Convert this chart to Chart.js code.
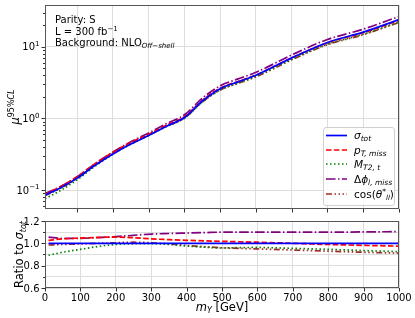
<!DOCTYPE html>
<html><head><meta charset="utf-8">
<script src="https://cdn.jsdelivr.net/npm/chart.js@4.4.0/dist/chart.umd.min.js"></script>
<style>
html,body{margin:0;padding:0;background:#fff;}
#wrap{position:relative;width:415px;height:318px;overflow:hidden;}
#c1{position:absolute;left:0;top:0;}
#c2{position:absolute;left:0;top:215px;}
</style></head><body>
<div id="wrap"><canvas id="c1" width="415" height="215"></canvas><canvas id="c2" width="415" height="103"></canvas></div>
<script>
// ---- data ----
const mass = [10,50,100,150,200,250,300,350,400,450,500,550,600,700,800,900,1000];
const muSigmaTot = [0.085,0.105,0.147,0.222,0.32,0.44,0.58,0.78,1.03,1.75,2.6,3.24,4.0,7.0,11.5,16.0,24.0];
const muPtMiss   = [0.0873,0.1092,0.1539,0.2338,0.3379,0.462,0.6032,0.8057,1.058,1.789,2.647,3.285,4.04,7.0,11.39,15.71,23.4];
const muMT2      = [0.0759,0.0966,0.1391,0.2158,0.3168,0.4382,0.5783,0.7722,1.005,1.691,2.491,3.117,3.852,6.685,10.88,14.96,22.2];
const muDphi     = [0.0897,0.1097,0.1536,0.2335,0.3392,0.4717,0.6281,0.8486,1.125,1.918,2.86,3.564,4.4,7.7,12.65,17.63,26.52];
const muCos      = [0.0837,0.104,0.1463,0.222,0.3216,0.4444,0.5829,0.7761,1.009,1.698,2.496,3.094,3.8,6.58,10.70,14.72,21.89];

const ratioSigmaTot = [1,1,1,1,1,1,1,1,1,1,1,1,1,1,1,1,1];
const ratioPtMiss = [1.027,1.04,1.047,1.053,1.056,1.05,1.04,1.033,1.027,1.022,1.018,1.014,1.01,1.0,0.99,0.982,0.975];
const ratioMT2    = [0.893,0.92,0.946,0.972,0.99,0.996,0.997,0.99,0.976,0.966,0.958,0.962,0.963,0.955,0.946,0.935,0.925];
const ratioDphi   = [1.055,1.045,1.045,1.052,1.06,1.072,1.083,1.088,1.092,1.096,1.1,1.1,1.1,1.1,1.1,1.102,1.105];
const ratioCos    = [0.985,0.99,0.995,1.0,1.005,1.01,1.005,0.995,0.98,0.97,0.96,0.955,0.95,0.94,0.93,0.92,0.912];

const xTicks = [0,100,200,300,400,500,600,700,800,900,1000];
const yTopExps = [-1,0,1];
const yRatioTicks = [0.6,0.8,1.0,1.2];

// ---- styles ----
const FONT = '"DejaVu Sans", "Liberation Sans", sans-serif';
const styles = [
  {color:'#0000ff', dash:[]},
  {color:'#ff0000', dash:[5.5,2.4]},
  {color:'#008000', dash:[1.5,2.5]},
  {color:'#800080', dash:[9.6,2.4,1.5,2.4]},
  {color:'#a52a2a', dash:[6,2.5,1.5,2.5,1.5,2.5,1.5,2.5]}
];
const LW = 1.7;

function mk(xs, ys, i){
  return {data: xs.map((x,k)=>({x:x,y:ys[k]})), borderColor:styles[i].color, borderDash:styles[i].dash,
    borderWidth:LW, pointRadius:0, fill:false, cubicInterpolationMode:'monotone', borderCapStyle:'butt'};
}

function drawRuns(ctx, x, y, list, align){
  let w = 0;
  for (const r of list){ ctx.font = (r[2]||'') + ' ' + r[1] + 'px ' + FONT; w += ctx.measureText(r[0]).width; }
  let cx = x;
  if (align==='center') cx = x - w/2; else if (align==='right') cx = x - w;
  ctx.textAlign='left'; ctx.textBaseline='alphabetic';
  for (const r of list){ ctx.font = (r[2]||'') + ' ' + r[1] + 'px ' + FONT; ctx.fillText(r[0], cx, y + (r[3]||0)); cx += ctx.measureText(r[0]).width; }
  return w;
}

const GRID = '#dddddd';
const FRAME = '#555555';

const topPlugin = {
  id:'topDeco',
  afterDraw(chart){
    const {ctx, chartArea:a, scales:{x,y}} = chart;
    ctx.save();
    ctx.strokeStyle = FRAME; ctx.lineWidth = 1; ctx.setLineDash([]);
    ctx.strokeRect(a.left+0.5, a.top+0.5, a.right-a.left-1, a.bottom-a.top-1);
    ctx.strokeStyle = '#333';
    for (let e=-2;e<=1;e++){
      for (let k=1;k<=9;k++){
        const v = k*Math.pow(10,e);
        if (v < y.min || v > y.max) continue;
        const py = Math.round(y.getPixelForValue(v))+0.5;
        const len = k===1?3.5:2;
        ctx.beginPath(); ctx.moveTo(a.left-len, py); ctx.lineTo(a.left, py); ctx.stroke();
      }
    }
    for (const t of xTicks){
      if (t < x.min || t > x.max) continue;
      const px = Math.round(x.getPixelForValue(t))+0.5;
      ctx.beginPath(); ctx.moveTo(px, a.bottom); ctx.lineTo(px, a.bottom+3.5); ctx.stroke();
    }
    ctx.fillStyle = '#000';
    for (const e of yTopExps){
      const py = y.getPixelForValue(Math.pow(10,e));
      drawRuns(ctx, 39.5, py+3.6, [['10',10,''],[e<0?'\u2212'+(-e):String(e),7,'',-4.5]], 'right');
    }
    ctx.save();
    ctx.translate(19, (a.top+a.bottom)/2);
    ctx.rotate(-Math.PI/2);
    drawRuns(ctx, 0, 0, [['\u03bc',11.5,'italic'],['95%',8,'',-5],['CL',8,'italic',-5]], 'center');
    ctx.restore();
    drawRuns(ctx, 55, 23, [['Parity: S',10,'']], 'left');
    drawRuns(ctx, 55, 34.5, [['L = 300 fb',10,''],['\u22121',7,'',-4]], 'left');
    drawRuns(ctx, 55, 46, [['Background: NLO',10,''],['Off\u2212shell',7,'italic',2]], 'left');
    const lx = 323, ly = 127, lw = 71, lh = 78;
    ctx.fillStyle = 'rgba(255,255,255,0.85)';
    ctx.strokeStyle = '#d0d0d0';
    ctx.beginPath();
    if (ctx.roundRect) ctx.roundRect(lx+0.5, ly+0.5, lw, lh, 2.5); else ctx.rect(lx+0.5, ly+0.5, lw, lh);
    ctx.fill(); ctx.stroke();
    const rows = [
      [135.5, [['\u03c3',10.5,'italic'],['tot',7.5,'italic',2]]],
      [150, [['p',10.5,'italic'],['T, miss',7.5,'italic',2]]],
      [164, [['M',10.5,'italic'],['T2, t',7.5,'italic',2]]],
      [179, [['\u0394',10.5,''],['\u03d5',10.5,'italic'],['l, miss',7.5,'italic',2]]],
      [194, [['cos(',10.5,''],['\u03b8',10.5,'italic'],['*',7.5,'',-4],['ll',7,'italic',2.5],[')',10.5,'']]]
    ];
    rows.forEach((r,i)=>{
      ctx.strokeStyle = styles[i].color; ctx.lineWidth = LW; ctx.setLineDash(styles[i].dash);
      ctx.beginPath(); ctx.moveTo(326, r[0]); ctx.lineTo(347, r[0]); ctx.stroke();
      ctx.setLineDash([]);
      ctx.fillStyle = '#000';
      drawRuns(ctx, 354, r[0]+3.5, r[1], 'left');
    });
    ctx.restore();
  }
};

const botPlugin = {
  id:'botDeco',
  afterDraw(chart){
    const {ctx, chartArea:a, scales:{x,y}} = chart;
    ctx.save();
    ctx.strokeStyle = FRAME; ctx.lineWidth = 1; ctx.setLineDash([]);
    ctx.strokeRect(a.left+0.5, a.top+0.5, a.right-a.left-1, a.bottom-a.top-1);
    ctx.strokeStyle = '#333';
    for (let k=6;k<=12;k++){
      const v = k/10;
      const py = Math.round(y.getPixelForValue(v))+0.5;
      const len = (k%2===0)?3.5:2;
      ctx.beginPath(); ctx.moveTo(a.left-len, py); ctx.lineTo(a.left, py); ctx.stroke();
    }
    for (const t of xTicks){
      const px = Math.round(x.getPixelForValue(t))+0.5;
      ctx.beginPath(); ctx.moveTo(px, a.bottom); ctx.lineTo(px, a.bottom+3.5); ctx.stroke();
    }
    ctx.fillStyle = '#000';
    for (const t of yRatioTicks){
      const py = y.getPixelForValue(t);
      drawRuns(ctx, 39.5, py+3.6, [[t.toFixed(1),10,'']], 'right');
    }
    for (const t of xTicks){
      const px = x.getPixelForValue(t);
      drawRuns(ctx, px, a.bottom+12.5, [[String(t),10,'']], 'center');
    }
    drawRuns(ctx, (a.left+a.right)/2, a.bottom+22.5, [['m',11.5,'italic'],['Y',8,'italic',2.5],[' [GeV]',11.5,'']], 'center');
    ctx.save();
    ctx.translate(23, (a.top+a.bottom)/2);
    ctx.rotate(-Math.PI/2);
    drawRuns(ctx, 0, 0, [['Ratio to ',11.5,''],['\u03c3',11.5,'italic'],['tot',8,'italic',2.5]], 'center');
    ctx.restore();
    ctx.restore();
  }
};

const gridCfg = () => ({color: GRID, drawTicks:false, lineWidth:1});

new Chart(document.getElementById('c1'), {
  type:'line',
  data:{datasets:[mk(mass,muSigmaTot,0),mk(mass,muPtMiss,1),mk(mass,muMT2,2),mk(mass,muDphi,3),mk(mass,muCos,4)]},
  options:{
    responsive:false, animation:false, devicePixelRatio:1,
    layout:{padding:{left:0,right:16,top:5,bottom:0}},
    plugins:{legend:{display:false},tooltip:{enabled:false}},
    scales:{
      x:{type:'linear', min:10, max:1000, border:{display:false},
         ticks:{display:false},
         afterBuildTicks:(s)=>{ s.ticks = xTicks.filter(t=>t>=10).map(v=>({value:v})); },
         afterFit:(s)=>{ s.height = 6; },
         grid:gridCfg()},
      y:{type:'logarithmic', min:0.0545, max:38.3, border:{display:false},
         ticks:{display:false},
         afterBuildTicks:(s)=>{ s.ticks = yTopExps.map(e=>({value:Math.pow(10,e)})); },
         afterFit:(s)=>{ s.width = 45; },
         grid:gridCfg()}
    }
  },
  plugins:[topPlugin]
});

new Chart(document.getElementById('c2'), {
  type:'line',
  data:{datasets:[mk(mass,ratioSigmaTot,0),mk(mass,ratioPtMiss,1),mk(mass,ratioMT2,2),mk(mass,ratioDphi,3),mk(mass,ratioCos,4)]},
  options:{
    responsive:false, animation:false, devicePixelRatio:1,
    layout:{padding:{left:0,right:16,top:6,bottom:0}},
    plugins:{legend:{display:false},tooltip:{enabled:false}},
    scales:{
      x:{type:'linear', min:0, max:1000, border:{display:false},
         ticks:{display:false},
         afterBuildTicks:(s)=>{ s.ticks = xTicks.map(v=>({value:v})); },
         afterFit:(s)=>{ s.height = 30; },
         grid:gridCfg()},
      y:{type:'linear', min:0.6, max:1.2, border:{display:false},
         ticks:{display:false},
         afterBuildTicks:(s)=>{ s.ticks = [0.6,0.7,0.8,0.9,1.0,1.1,1.2].map(v=>({value:v})); },
         afterFit:(s)=>{ s.width = 45; },
         grid:gridCfg()}
    }
  },
  plugins:[botPlugin]
});
</script>
</body></html>
